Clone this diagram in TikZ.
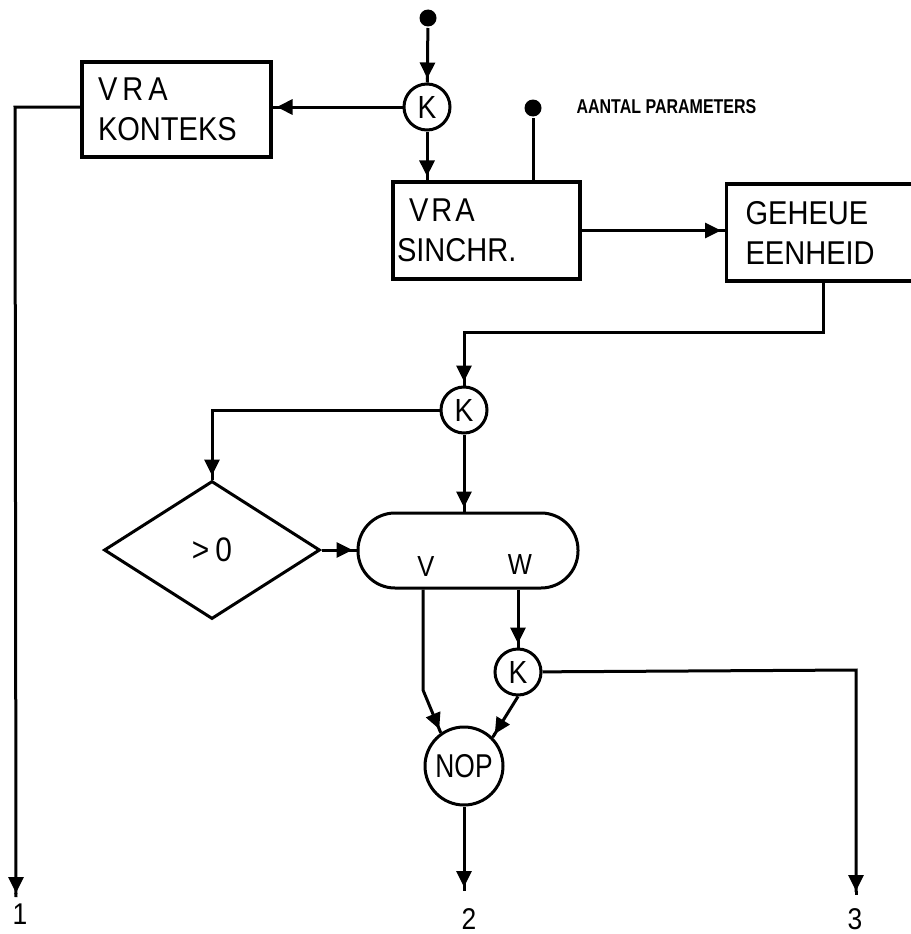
\documentclass[tikz,border=0pt]{standalone}
\usepackage{fontspec}
\setmainfont{Liberation Sans}[FakeStretch=0.88]
\newfontfamily\narrowfont{Liberation Sans}[FakeStretch=0.8]
\usetikzlibrary{arrows.meta,shapes.geometric}
\begin{document}
\begin{tikzpicture}[x=1pt,y=-1pt, line width=3pt,
  arr/.style={-{Triangle[length=16pt,width=15pt,sep=0pt]Rectangle[length=4pt,width=3pt]}},
  box/.style={draw, line width=3.2pt, rectangle, align=left, inner sep=0pt,
    font=\fontsize{33}{40}\selectfont},
  kc/.style={draw, circle, line width=3pt, minimum size=46pt, inner sep=0pt,
    font=\fontsize{32}{36}\selectfont},
  dot/.style={circle, fill, minimum size=17pt, inner sep=0pt},
  lbl/.style={inner sep=0pt, font=\fontsize{30}{34}\selectfont}]
\useasboundingbox (0,0) rectangle (910,934);

% nodes
\node[dot] (dot1) at (428,18) {};
\node[kc] (K1) at (427,107) {K};
\node[box, minimum width=189pt, minimum height=95pt, text width=157pt] (kont) at (176.5,109.5)
  {V\kern5pt R\kern5pt A\\KONTEKS};
\node[box, minimum width=187pt, minimum height=97pt, text width=179pt] (sinchr) at (486.5,230.5)
  {\hspace*{12pt}V\kern3pt R\kern3pt A\\SINCHR.};
\node[dot] (dot2) at (533,108) {};
\node[anchor=base west, inner sep=0pt, font=\narrowfont\bfseries\fontsize{20}{24}\selectfont] (aantal) at (575,113) {AANTAL PARAMETERS};
\node[box, anchor=west, minimum width=230pt, minimum height=97pt, text width=192pt] (geheue) at (725,232.5)
  {GEHEUE\\EENHEID};
\node[kc] (K2) at (464,410) {K};
\node[draw, diamond, line width=3pt, minimum width=216pt, minimum height=138pt, inner sep=0pt,
  font=\fontsize{34}{38}\selectfont] (dia) at (212,550) {>\kern6pt 0};
\node[draw, rectangle, rounded corners=37pt, line width=3pt, minimum width=220pt, minimum height=75pt] (stad) at (468,550.5) {};
\node[lbl, font=\fontsize{29}{32}\selectfont] (V) at (426,567) {V};
\node[lbl, font=\fontsize{29}{32}\selectfont] (W) at (520,565) {W};
\node[kc] (K3) at (518,672) {K};
\node[draw, circle, line width=3pt, minimum size=78pt, inner sep=0pt,
  font=\narrowfont\fontsize{33}{36}\selectfont] (NOP) at (464,766) {NOP};
\node[lbl] (l1) at (20,914) {1};
\node[lbl] (l2) at (469,919) {2};
\node[lbl] (l3) at (855,919) {3};

\coordinate (c1) at (15,107);
\coordinate (o1) at (16,897);
\coordinate (c2) at (823,332);
\coordinate (vb) at (423,690);
\coordinate (c3) at (856,670);
\coordinate (o3) at (856,895);
\coordinate (o2) at (464,891);

% connectors
\draw[arr] (dot1) -- (K1);
\draw[arr] (K1) -- (K1 -| kont.east);
\draw[arr] (kont.west |- K1) -- (c1) -- (o1);
\draw[arr] (K1) -- (K1 |- sinchr.north);
\draw (dot2) -- (dot2 |- sinchr.north);
\draw[arr] (sinchr.east) -- (sinchr.east -| geheue.west);
\draw[arr] (geheue.south -| c2) -- (c2) -- (c2 -| K2) -- (K2);
\draw[arr] (K2) -| (dia.north);
\draw[arr] (K2) -- (K2 |- stad.north);
\draw[arr] (dia.east) -- (dia.east -| stad.west);
\draw[arr] (vb |- stad.south) -- (vb) -- (NOP.125);
\draw[arr] (K3 |- stad.south) -- (K3);
\draw[arr] (K3.south) -- (NOP.45);
\draw[arr] (K3) -- (c3) -- (o3);
\draw[arr] (NOP) -- (o2);
\end{tikzpicture}
\end{document}
